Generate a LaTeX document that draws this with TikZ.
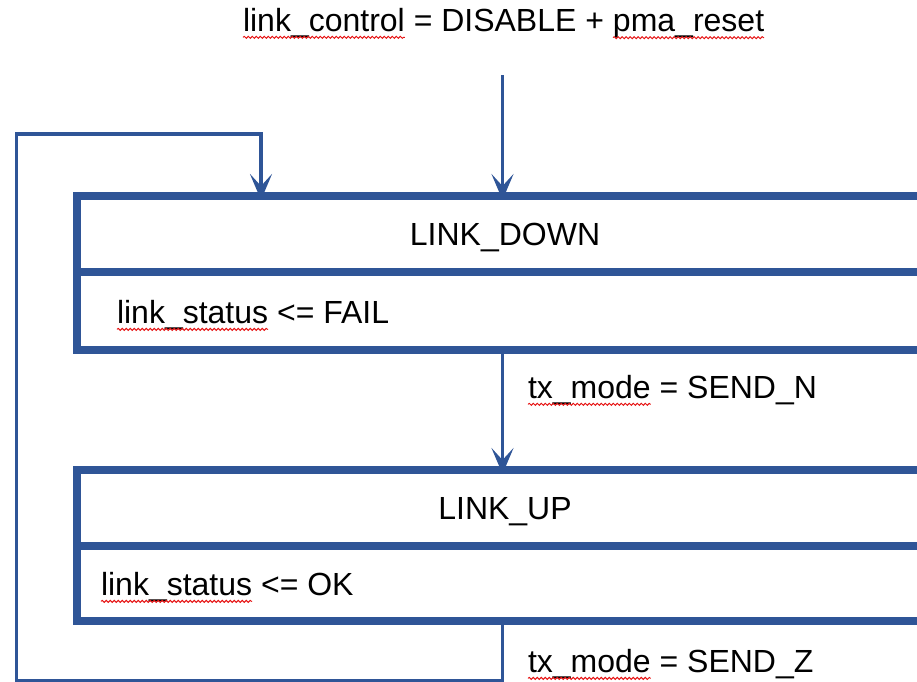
\documentclass[tikz,border=0pt]{standalone}
\usepackage{fontspec}
\setmainfont{Liberation Sans}
\usetikzlibrary{arrows.meta,positioning,decorations.pathmorphing}
\definecolor{stateblue}{RGB}{47,85,151}
\definecolor{spellred}{RGB}{230,20,20}
\newcommand{\lblsize}{\fontsize{32}{38}\selectfont}
\tikzset{
  statebox/.style={draw=stateblue, line width=8pt, minimum width=856pt, minimum height=76pt,
    inner sep=0pt, outer sep=0pt, font=\lblsize, text depth=0pt},
  lbl/.style={inner sep=0pt, outer sep=0pt, font=\lblsize},
  flow/.style={draw=stateblue, line width=3.5pt, -{Stealth[length=26pt,width=22pt,inset=12pt]}, shorten >=-4pt},
  spell/.style={draw=spellred, line width=0.9pt, decorate, decoration={snake, amplitude=1pt, segment length=4pt}}
}
\begin{document}
\begin{tikzpicture}[x=1pt,y=1pt,yscale=-1]
\path[use as bounding box, clip] (0,0) rectangle (917,681);

% states
\node[statebox] (downname) at (505,234) {LINK\_DOWN};
\node[statebox, below=0pt of downname, minimum height=78pt] (downact) {};
\node[statebox] (upname) at (505,508) {LINK\_UP};
\node[statebox, below=0pt of upname, minimum height=75pt] (upact) {};

% state actions
\node[lbl, anchor=base west] (dstat) at (117,323) {link\_status};
\node[lbl, anchor=base west] (dfail) at (dstat.base east) {\ <= FAIL};
\node[lbl, anchor=base west] (ustat) at (101,595) {link\_status};
\node[lbl, anchor=base west] (uok) at (ustat.base east) {\ <= OK};

% entry condition
\node[lbl, anchor=base west] (ctl) at (243,31) {link\_control};
\node[lbl, anchor=base west] (dis) at (ctl.base east) {\ = DISABLE +\ \mbox{}};
\node[lbl, anchor=base west] (pma) at (dis.base east) {pma\_reset};

% transition conditions
\node[lbl, anchor=base west] (txn) at (528,398) {tx\_mode};
\node[lbl, anchor=base west] (sendn) at (txn.base east) {\ = SEND\_N};
\node[lbl, anchor=base west] (txz) at (528,672) {tx\_mode};
\node[lbl, anchor=base west] (sendz) at (txz.base east) {\ = SEND\_Z};

% spelling marks
\foreach \w in {ctl,pma,dstat,ustat,txn,txz}
  \draw[spell] (\w.south west) -- (\w.south east);

% transitions
\coordinate (entry) at (502.5,75);
\coordinate (lpbot) at (16.5,681);
\coordinate (back) at (261,134);
\draw[flow] (entry) -- (entry |- downname.north);
\draw[flow] (downact.south -| entry) -- (upname.north -| entry);
\draw[flow] (upact.south -| entry) |- (lpbot) |- (back) -- (back |- downname.north);

\end{tikzpicture}
\end{document}
